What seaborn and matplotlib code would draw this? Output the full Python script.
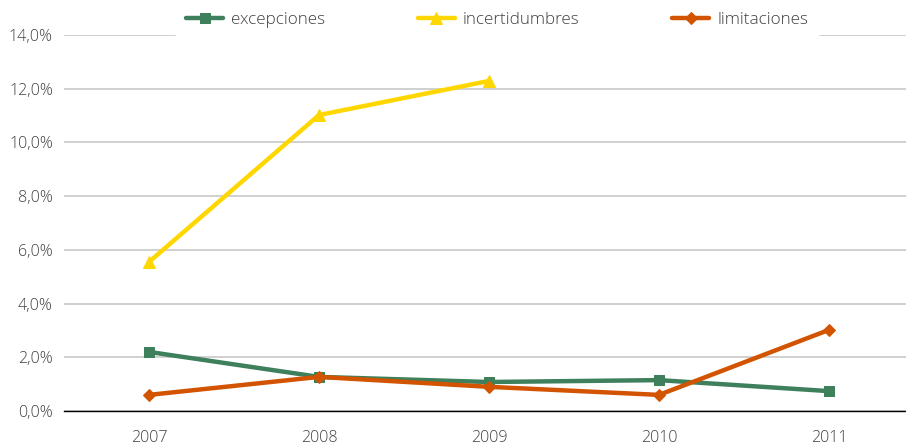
import numpy as np
import pandas as pd
import matplotlib
matplotlib.use("Agg")
import matplotlib.pyplot as plt
import seaborn as sns
from matplotlib.ticker import FuncFormatter, FixedLocator

sns.set_style("white")
plt.rcParams['font.family'] = ['Open Sans', 'DejaVu Sans']

years = ['2007', '2008', '2009', '2010', '2011']
excepciones = [2.2, 1.27, 1.08, 1.15, 0.74]
incertidumbres = [5.55, 11.02, 12.29, np.nan, np.nan]
limitaciones = [0.6, 1.27, 0.9, 0.6, 3.02]

series = ['excepciones', 'incertidumbres', 'limitaciones']
colors = ['#3e7f5c', '#ffd700', '#d35400']
markers = ['s', '^', 'D']
msizes = [7, 8, 6]

df = pd.DataFrame({'x': list(range(len(years))) * 3,
                   'valor': excepciones + incertidumbres + limitaciones,
                   'serie': np.repeat(series, len(years))})

fig = plt.figure(figsize=(9.06, 4.45), dpi=100)
ax = fig.add_axes([64/906, 1 - 411/445, 850/906, 376/445])

for s, c, m, ms in zip(series, colors, markers, msizes):
    d = df[df.serie == s]
    sns.lineplot(data=d, x='x', y='valor', color=c, marker=m, markersize=ms,
                 markeredgecolor=c, linewidth=3.2, label=s, ax=ax)

ax.set_xlim(-0.5, 4.5)
ax.set_ylim(0, 14)
ax.set_yticks(np.arange(0, 15, 2))
ax.yaxis.set_major_formatter(FuncFormatter(lambda v, p: f"{v:.1f}%".replace('.', ',')))
ax.set_xticks(range(len(years)))
ax.set_xticklabels(years)
ax.xaxis.set_minor_locator(FixedLocator(np.arange(-0.5, 5, 1)))
ax.tick_params(axis='x', which='major', length=0, pad=14, labelsize=11.5, colors='#404040')
ax.tick_params(axis='x', which='minor', length=5, width=1, color='#000000', direction='out')
ax.tick_params(axis='y', length=0, labelsize=11.5, colors='#404040', pad=8)
for lab in ax.get_xticklabels() + ax.get_yticklabels():
    lab.set_fontweight('light')
ax.grid(axis='y', color='#c8c8c8', linewidth=1.2)
ax.set_axisbelow(True)
for sp in ['left', 'right', 'top']:
    ax.spines[sp].set_visible(False)
ax.spines['bottom'].set_color('#000000')
ax.spines['bottom'].set_linewidth(1)
ax.set_xlabel('')
ax.set_ylabel('')

leg = ax.legend(loc='center', bbox_to_anchor=(0.5 + 8/850, 1 + 15/376), ncol=3, frameon=True,
                prop={'size': 12.3, 'weight': 'light'}, handlelength=2.2,
                columnspacing=5.4, handletextpad=0.45,
                borderpad=0.6, fancybox=False)
leg.get_frame().set_edgecolor('white')
leg.get_frame().set_facecolor('white')
leg.get_frame().set_alpha(1)
for t in leg.get_texts():
    t.set_color('#404040')

fig.savefig('out.png', dpi=100)
